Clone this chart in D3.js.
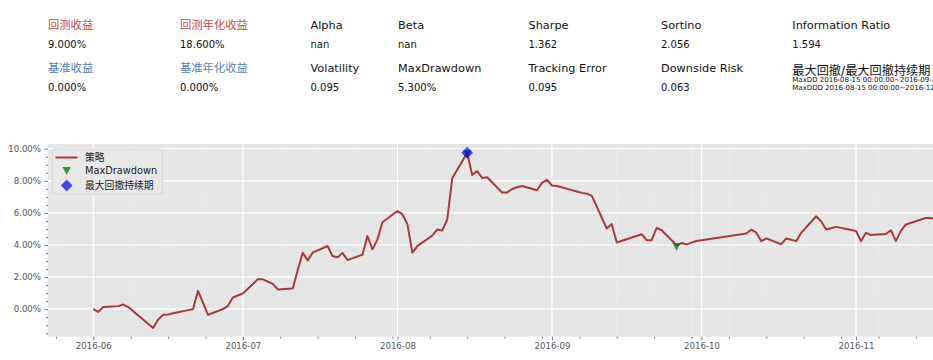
<!DOCTYPE html>
<html><head><meta charset="utf-8">
<script src="https://cdn.jsdelivr.net/npm/d3@7"></script>
<style>
html,body{margin:0;padding:0;background:#fff;}
svg{display:block;font-family:"DejaVu Sans","Noto Sans CJK SC",sans-serif;}
</style></head>
<body><svg id="chart" width="933" height="360"></svg>
<script>
// ---------------- data ----------------
const dates = ["2016-06-01","2016-06-02","2016-06-03","2016-06-06","2016-06-07","2016-06-08","2016-06-13","2016-06-14","2016-06-15","2016-06-16","2016-06-17","2016-06-20","2016-06-21","2016-06-22","2016-06-23","2016-06-24","2016-06-27","2016-06-28","2016-06-29","2016-06-30",
"2016-07-01","2016-07-04","2016-07-05","2016-07-06","2016-07-07","2016-07-08","2016-07-11","2016-07-12","2016-07-13","2016-07-14","2016-07-15","2016-07-18","2016-07-19","2016-07-20","2016-07-21","2016-07-22","2016-07-25","2016-07-26","2016-07-27","2016-07-28","2016-07-29",
"2016-08-01","2016-08-02","2016-08-03","2016-08-04","2016-08-05","2016-08-08","2016-08-09","2016-08-10","2016-08-11","2016-08-12","2016-08-15","2016-08-16","2016-08-17","2016-08-18","2016-08-19","2016-08-22","2016-08-23","2016-08-24","2016-08-25","2016-08-26","2016-08-29","2016-08-30","2016-08-31",
"2016-09-01","2016-09-02","2016-09-05","2016-09-06","2016-09-07","2016-09-08","2016-09-09","2016-09-12","2016-09-13","2016-09-14","2016-09-19","2016-09-20","2016-09-21","2016-09-22","2016-09-23","2016-09-26","2016-09-27","2016-09-28","2016-09-29","2016-09-30",
"2016-10-10","2016-10-11","2016-10-12","2016-10-13","2016-10-14","2016-10-17","2016-10-18","2016-10-19","2016-10-20","2016-10-21","2016-10-24","2016-10-25","2016-10-26","2016-10-27","2016-10-28","2016-10-31",
"2016-11-01","2016-11-02","2016-11-03","2016-11-04","2016-11-07","2016-11-08","2016-11-09","2016-11-10","2016-11-11","2016-11-14","2016-11-15","2016-11-16","2016-11-17"];
const strategy = [0.00,-0.17,0.13,0.19,0.29,0.13,-1.17,-0.65,-0.35,-0.33,-0.26,-0.06,0.00,1.14,0.40,-0.35,0.00,0.21,0.73,0.85,
0.98,1.86,1.86,1.72,1.58,1.23,1.29,2.42,3.52,3.04,3.52,3.94,3.31,3.23,3.50,3.06,3.40,4.56,3.73,4.35,5.42,
6.12,5.92,5.30,3.52,3.93,4.59,4.97,4.91,5.59,8.16,9.75,8.36,8.61,8.18,8.22,7.27,7.27,7.49,7.60,7.68,7.41,7.87,8.06,
7.71,7.68,7.42,7.33,7.25,7.20,7.06,5.03,5.31,4.16,4.67,4.30,4.30,5.07,4.92,3.98,4.12,4.04,4.15,4.25,
4.72,4.96,4.77,4.24,4.41,4.05,4.41,4.33,4.24,4.76,5.79,5.48,4.97,5.05,5.13,4.93,
4.87,4.24,4.76,4.62,4.69,4.92,4.24,4.88,5.28,5.59,5.68,5.68,5.58];
const maxDDDates = ["2016-08-15","2016-09-26"];   // green markers
const maxDDDDates = ["2016-08-15"];                // blue diamond(s)
const xDomain = ["2016-05-22 21:50","2016-11-16 10:35"];
const monthTicks = ["2016-06-01","2016-07-01","2016-08-01","2016-09-01","2016-10-01","2016-11-01"];
const yTicks = [0,2,4,6,8,10];

const statLabels1 = ["回测收益","回测年化收益","Alpha","Beta","Sharpe","Sortino","Information Ratio"];
const statValues1 = ["9.000%","18.600%","nan","nan","1.362","2.056","1.594"];
const statLabels2 = ["基准收益","基准年化收益","Volatility","MaxDrawdown","Tracking Error","Downside Risk","最大回撤/最大回撤持续期"];
const statValues2 = ["0.000%","0.000%","0.095","5.300%","0.095","0.063",""];
const ddTexts = ["MaxDD  2016-08-15 00:00:00~2016-09-26 00:00:00, 5.300%","MaxDDD 2016-08-15 00:00:00~2016-12-30 00:00:00, 95 days"];
const legendLabels = ["策略","MaxDrawdown","最大回撤持续期"];

// ---------------- chart ----------------
const parseD = d3.timeParse("%Y-%m-%d");
const parseDT = d3.timeParse("%Y-%m-%d %H:%M");
const series = dates.map((d,i)=>({date:parseD(d), v:strategy[i]}));
const lookup = d => series.find(s=>+s.date===+parseD(d));

const svg = d3.select("#chart");
const P = {left:48, right:933, top:144, bottom:336.7};

// header
const colX = [48,180,310.5,398,528.5,661,792.3];
const red="#c0504d", blue="#4f81bd";
const hdr = svg.append("g");
statLabels1.forEach((t,i)=>{
  hdr.append("text").attr("x",colX[i]).attr("y",29.3).attr("font-size",11.3)
    .attr("fill", i<2?red:"#111").text(t);
  hdr.append("text").attr("x",colX[i]).attr("y",47.7).attr("font-size",10).attr("fill","#111").text(statValues1[i]);
});
statLabels2.forEach((t,i)=>{
  const last = i===statLabels2.length-1;
  hdr.append("text").attr("x",colX[i]).attr("y",last?75.3:71.7).attr("font-size",last?12.2:11.3)
    .attr("fill", i<2?blue:"#111").text(t);
  if(!last) hdr.append("text").attr("x",colX[i]).attr("y",91).attr("font-size",10).attr("fill","#111").text(statValues2[i]);
});
ddTexts.forEach((t,i)=>{
  hdr.append("text").attr("x",colX[6]).attr("y",81.8+i*8.4).attr("font-size",7).attr("fill","#111").text(t);
});

// scales
const x = d3.scaleTime().domain(xDomain.map(parseDT)).range([P.left,P.right]);
const ext = d3.extent(strategy); const pad = 0.05*(ext[1]-ext[0]);
const y = d3.scaleLinear().domain([ext[0]-pad, ext[1]+pad]).range([P.bottom,P.top]);

svg.append("defs").append("clipPath").attr("id","clip").append("rect")
  .attr("x",P.left).attr("y",P.top).attr("width",P.right-P.left).attr("height",P.bottom-P.top);

svg.append("rect").attr("x",P.left).attr("y",P.top).attr("width",P.right-P.left).attr("height",P.bottom-P.top).attr("fill","#e5e5e5");

// minor ticks
const june1 = parseD("2016-06-01");
const xMinor = d3.range(-2,30).filter(k=>k!==0 && k!==4)
  .map(k=>new Date(+june1 + k*7.5*864e5)).filter(d=>x(d)>=P.left && x(d)<=P.right);
const yMinor = d3.range(-3,21).map(k=>k*0.5).filter(v=>v%2!==0 && y(v)<=P.bottom && y(v)>=P.top);
const mTicks = monthTicks.map(parseD);

const grid = svg.append("g");
grid.selectAll(".xm").data(xMinor).join("line").attr("x1",d=>x(d)).attr("x2",d=>x(d))
  .attr("y1",P.top).attr("y2",P.bottom).attr("stroke","#fff").attr("stroke-opacity",0.25).attr("stroke-width",0.8);
grid.selectAll(".ym").data(yMinor).join("line").attr("y1",d=>y(d)).attr("y2",d=>y(d))
  .attr("x1",P.left).attr("x2",P.right).attr("stroke","#fff").attr("stroke-opacity",0.25).attr("stroke-width",0.8);
grid.selectAll(".xM").data(mTicks).join("line").attr("x1",d=>x(d)).attr("x2",d=>x(d))
  .attr("y1",P.top).attr("y2",P.bottom).attr("stroke","#fff").attr("stroke-width",1.2);
grid.selectAll(".yM").data(yTicks).join("line").attr("y1",d=>y(d)).attr("y2",d=>y(d))
  .attr("x1",P.left).attr("x2",P.right).attr("stroke","#fff").attr("stroke-width",1.2);

// axes
const xAxis = svg.append("g").attr("transform",`translate(0,${P.bottom})`)
  .call(d3.axisBottom(x).tickValues(mTicks).tickFormat(d3.timeFormat("%Y-%m")).tickSize(3.5).tickPadding(2.5));
const xAxisMinor = svg.append("g").attr("transform",`translate(0,${P.bottom})`)
  .call(d3.axisBottom(x).tickValues(xMinor).tickFormat("").tickSize(2));
const yAxis = svg.append("g").attr("transform",`translate(${P.left},0)`)
  .call(d3.axisLeft(y).tickValues(yTicks).tickFormat(d=>d3.format(".2f")(d)+"%").tickSize(3.5).tickPadding(3.5));
const yAxisMinor = svg.append("g").attr("transform",`translate(${P.left},0)`)
  .call(d3.axisLeft(y).tickValues(yMinor).tickFormat("").tickSize(2));
[xAxis,xAxisMinor,yAxis,yAxisMinor].forEach(g=>{
  g.select(".domain").remove();
  g.selectAll("line").attr("stroke","#555").attr("stroke-width",0.8);
  g.selectAll("text").attr("fill","#555").attr("font-size",8.6).attr("font-family","DejaVu Sans");
});

// line
const plot = svg.append("g").attr("clip-path","url(#clip)");
plot.append("path").datum(series)
  .attr("d", d3.line().x(d=>x(d.date)).y(d=>y(d.v)))
  .attr("fill","none").attr("stroke","#aa3a3a").attr("stroke-width",2).attr("stroke-linejoin","round");

const triPath = "M-4.2,-3.9L4.2,-3.9L0,3.9Z";
const diaPath = "M0,-6L5.8,0L0,6L-5.8,0Z";
plot.selectAll(".dd").data(maxDDDates.map(lookup)).join("path")
  .attr("d",triPath).attr("transform",d=>`translate(${x(d.date)},${y(d.v)+1.5})`)
  .attr("fill","#008000").attr("fill-opacity",0.75);
plot.selectAll(".ddd").data(maxDDDDates.map(lookup)).join("path")
  .attr("d",diaPath).attr("transform",d=>`translate(${x(d.date)},${y(d.v)})`)
  .attr("fill","#0000ff").attr("fill-opacity",0.7);

// legend
const lg = svg.append("g");
lg.append("rect").attr("x",52.5).attr("y",149).attr("width",110).attr("height",45).attr("rx",2.5)
  .attr("fill","#e8e8e8").attr("fill-opacity",0.9).attr("stroke","#d2d2d2").attr("stroke-width",0.8);
const ly = [157.5,171,185.5];
lg.append("line").attr("x1",55.5).attr("x2",77.5).attr("y1",ly[0]).attr("y2",ly[0]).attr("stroke","#aa3a3a").attr("stroke-width",2);
lg.append("path").attr("d",triPath).attr("transform",`translate(66.7,${ly[1]})`).attr("fill","#008000").attr("fill-opacity",0.75);
lg.append("path").attr("d",diaPath).attr("transform",`translate(66.7,${ly[2]})`).attr("fill","#0000ff").attr("fill-opacity",0.7);
legendLabels.forEach((t,i)=>{
  lg.append("text").attr("x",85).attr("y",ly[i]).attr("dy","0.35em").attr("font-size",9.8).attr("fill","#222").text(t);
});
</script></body></html>
